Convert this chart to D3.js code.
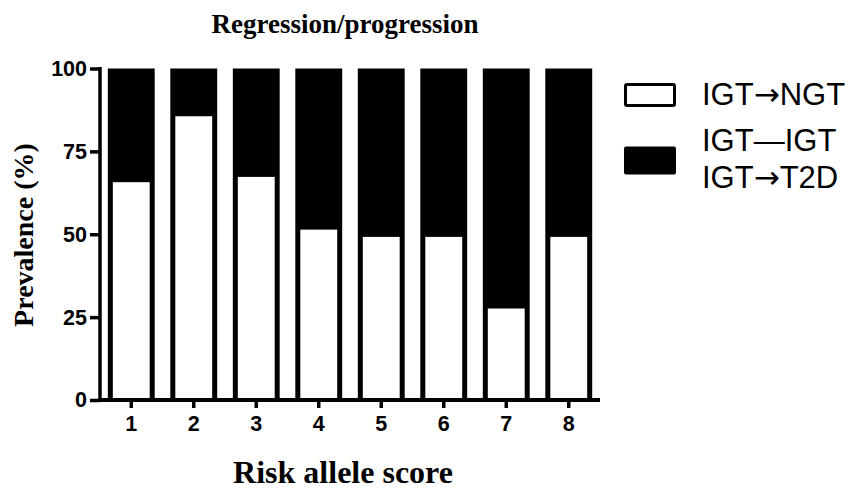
<!DOCTYPE html>
<html><head><meta charset="utf-8">
<script src="https://cdn.jsdelivr.net/npm/d3@7"></script>
<style>
html,body{margin:0;padding:0;background:#fff;}
svg{display:block;}
</style></head>
<body>
<svg id="chart" width="860" height="489"></svg>
<script>
const categories = ["1","2","3","4","5","6","7","8"];
const regression = [65.7, 85.6, 67.3, 51.4, 49.2, 49.2, 27.6, 49.2]; // IGT→NGT (%)
const yTicks = [0, 25, 50, 75, 100];
const legendLabels = [[["IGT", "\u2192", "NGT"]], [["IGT", "\u2014", "IGT"], ["IGT", "\u2192", "T2D"]]];
const title = "Regression/progression";
const xTitle = "Risk allele score";
const yTitle = "Prevalence (%)";

const svg = d3.select("#chart");
const x = d3.scaleBand().domain(categories).range([100, 600]).paddingInner(0.25).paddingOuter(0.125);
const y = d3.scaleLinear().domain([0, 100]).range([400, 68.5]);
const sans = "'Liberation Sans', Arial, sans-serif";
const serif = "'Liberation Serif', 'Times New Roman', serif";

// bars
const g = svg.append("g");
categories.forEach((c, i) => {
  const bx = x(c), bw = x.bandwidth();
  g.append("rect").attr("x", bx).attr("y", y(100)).attr("width", bw).attr("height", y(0) - y(100)).attr("fill", "#000");
  g.append("rect").attr("x", bx + 5).attr("y", y(regression[i])).attr("width", bw - 10)
    .attr("height", y(0) - y(regression[i])).attr("fill", "#fff");
});

// y axis
const ya = svg.append("g").attr("transform", "translate(100,0)")
  .call(d3.axisLeft(y).tickValues(yTicks).tickSize(10).tickSizeOuter(0).tickPadding(3));
ya.select(".domain").attr("stroke", "#000").attr("stroke-width", 3.5);
ya.selectAll(".tick line").attr("stroke", "#000").attr("stroke-width", 3.5);
ya.selectAll(".tick text").attr("font-family", sans).attr("font-weight", "bold").attr("font-size", 21.5).attr("fill", "#000");
ya.select(".domain").attr("d", `M0,${y(100)-1.5}V${y(0)}`);

// x axis
const xa = svg.append("g").attr("transform", "translate(0,400)")
  .call(d3.axisBottom(x).tickSize(8).tickSizeOuter(0).tickPadding(8));
xa.select(".domain").attr("stroke", "#000").attr("stroke-width", 4).attr("d", "M98,0H600");
xa.selectAll(".tick line").attr("stroke", "#000").attr("stroke-width", 3.5);
xa.selectAll(".tick text").attr("font-family", sans).attr("font-weight", "bold").attr("font-size", 21.5).attr("fill", "#000");

// titles
svg.append("text").attr("x", 345).attr("y", 33).attr("text-anchor", "middle")
  .attr("font-family", serif).attr("font-weight", "bold").attr("font-size", 27).text(title);
svg.append("text").attr("x", 343).attr("y", 483).attr("text-anchor", "middle")
  .attr("font-family", serif).attr("font-weight", "bold").attr("font-size", 32).text(xTitle);
svg.append("text").attr("transform", "translate(33,235) rotate(-90)").attr("text-anchor", "middle")
  .attr("font-family", serif).attr("font-weight", "bold").attr("font-size", 28).text(yTitle);

// legend
const lg = svg.append("g");
lg.append("rect").attr("x", 625.5).attr("y", 84.5).attr("width", 49).attr("height", 21)
  .attr("fill", "#fff").attr("stroke", "#000").attr("stroke-width", 3).attr("rx", 1.5);
lg.append("rect").attr("x", 624).attr("y", 146.5).attr("width", 52).attr("height", 28)
  .attr("fill", "#000").attr("rx", 2);
function legendLine(parts, yy) {
  const t = lg.append("text").attr("x", 702).attr("y", yy).attr("font-family", sans).attr("font-size", 31).attr("fill", "#000");
  parts.forEach((p, k) => {
    const ts = t.append("tspan").text(p);
    if (k === 1 && p === "\u2192") ts.attr("font-family", "'DejaVu Sans', sans-serif");
  });
}
legendLine(legendLabels[0][0], 105);
legendLabels[1].forEach((parts, i) => legendLine(parts, 151 + i * 37));
</script>
</body></html>
